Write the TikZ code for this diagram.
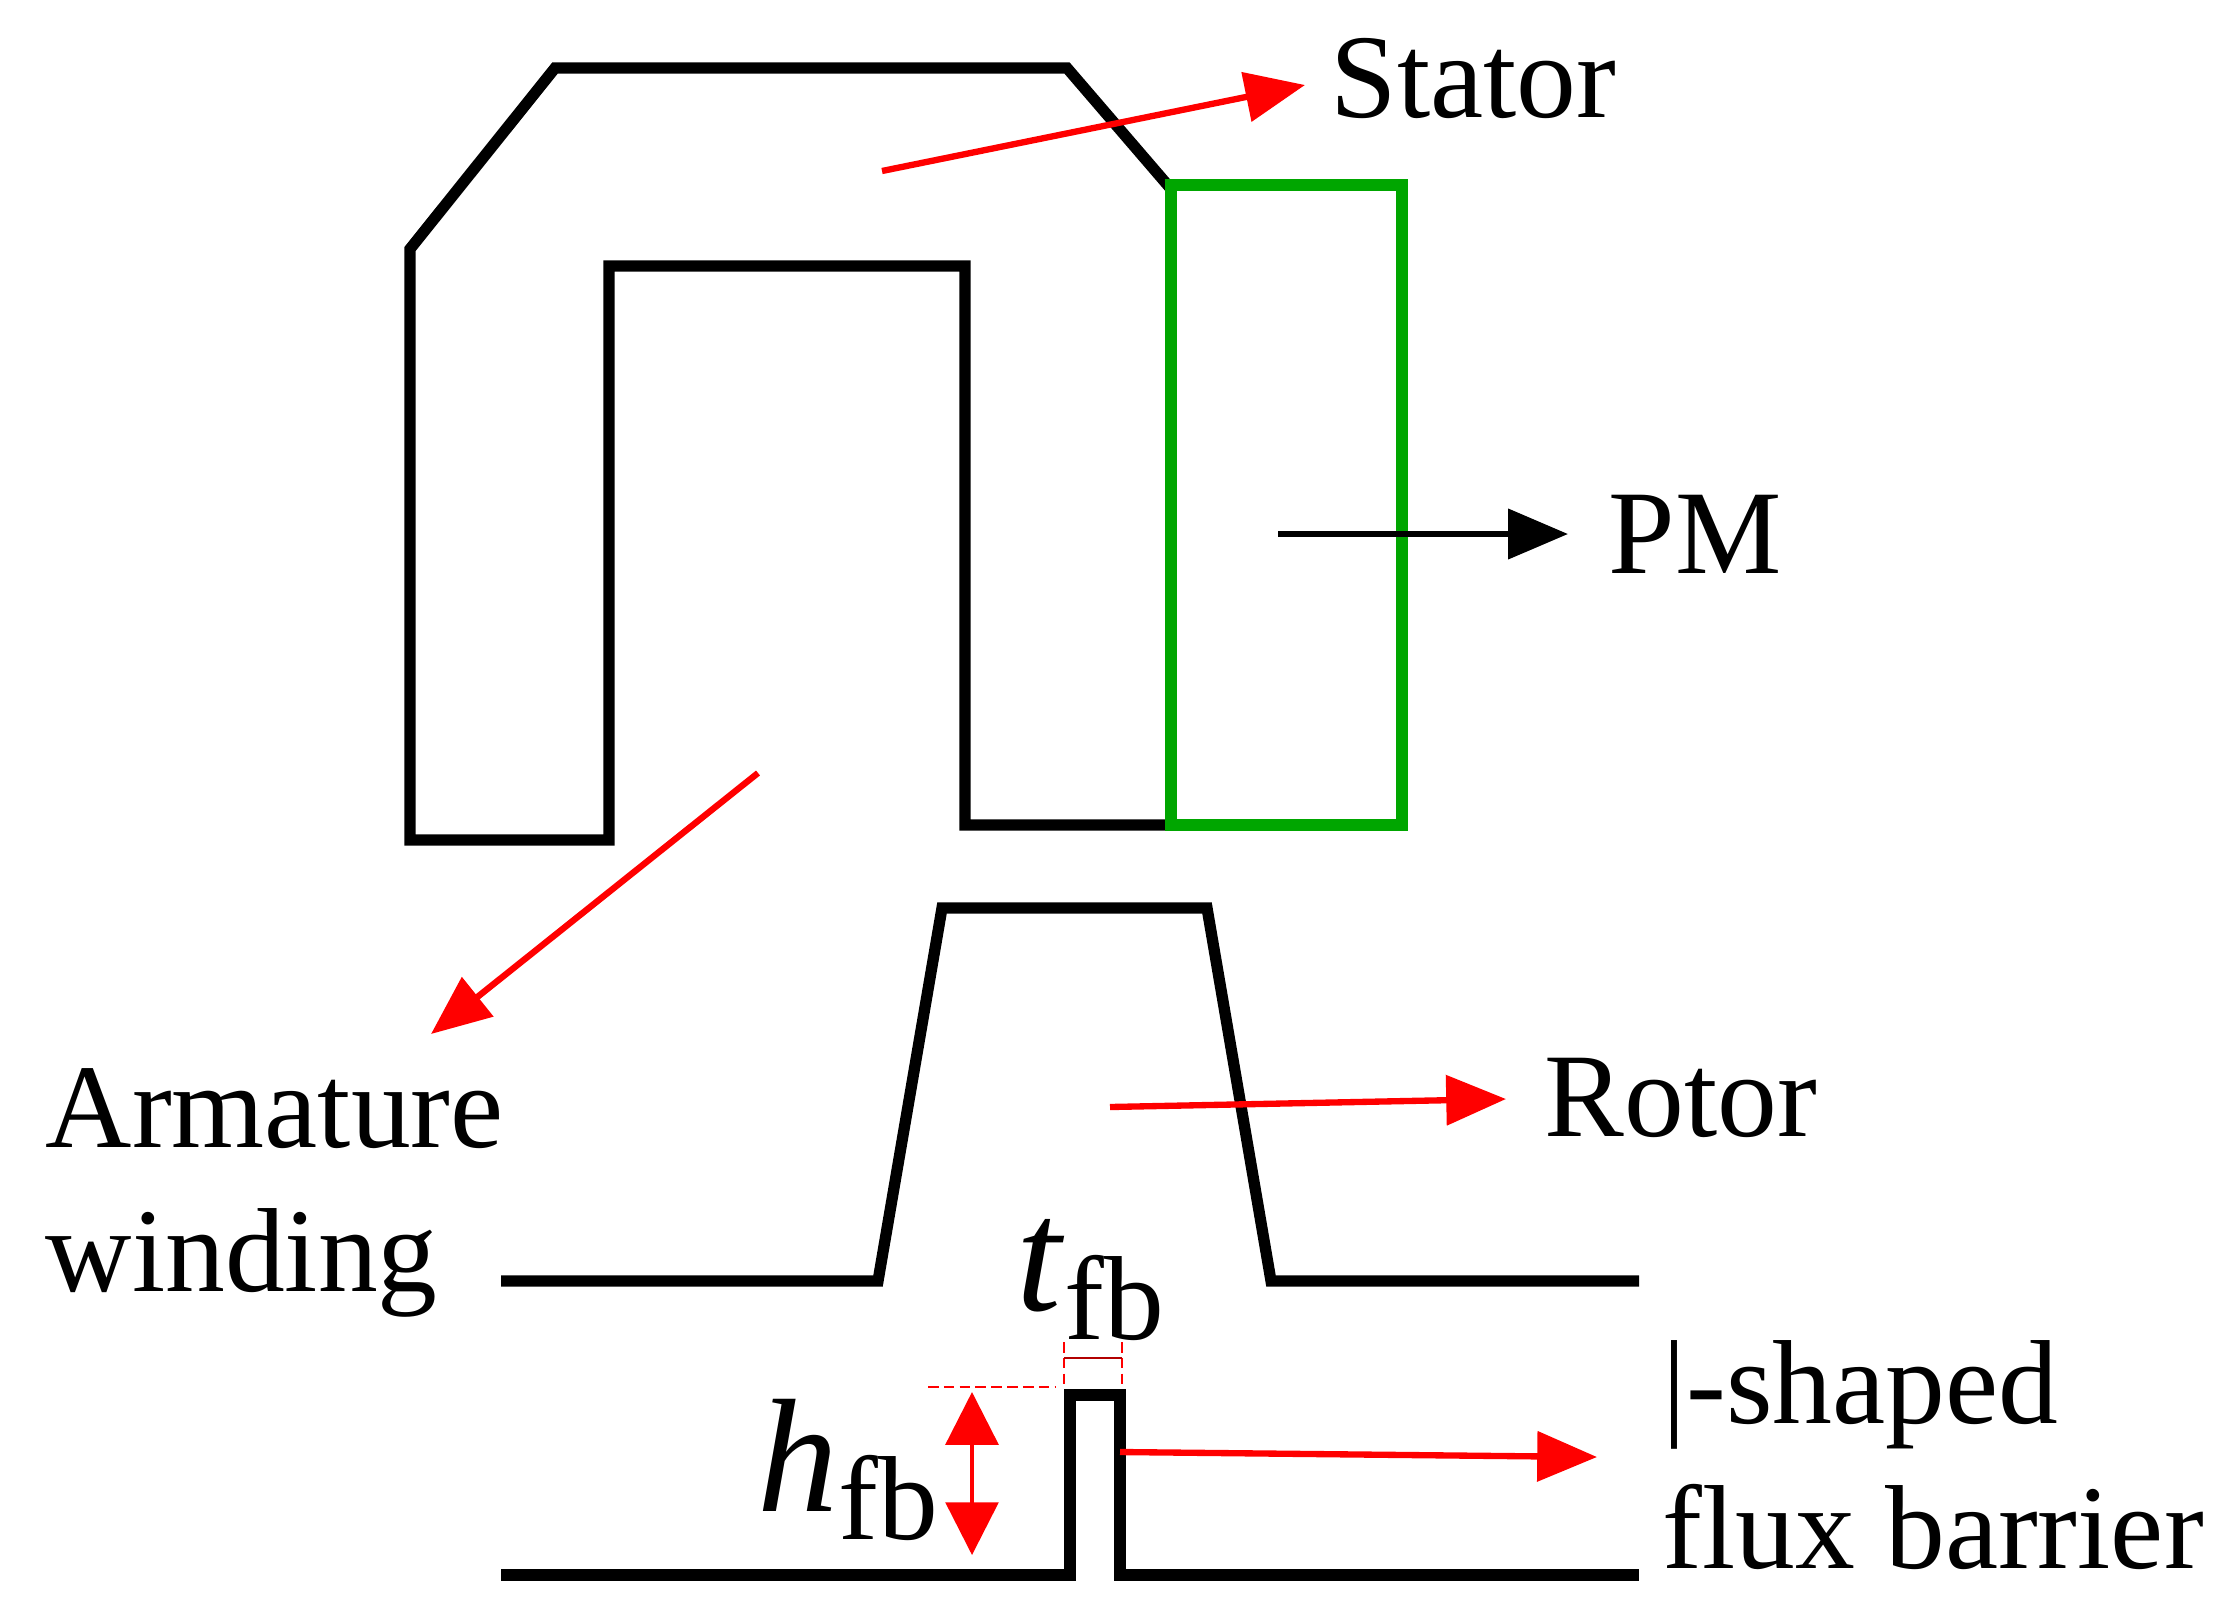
\documentclass[tikz,border=0pt]{standalone}
\usepackage{fontspec}
\setmainfont{Liberation Serif}
\usetikzlibrary{arrows.meta}
\begin{document}
\begin{tikzpicture}[x=0.01cm,y=-0.01cm,
  blk/.style={line width=3.2pt,black,line join=miter},
  rar/.style={red,line width=1.8pt,-{Triangle[length=17pt,width=14pt]}},
  lbl/.style={font=\fontsize{34}{41}\selectfont,inner sep=0pt}]
\useasboundingbox (0,0) rectangle (2231,1615);
% stator
\draw[blk] (1171,189) -- (1067,68) -- (555,68) -- (410,249) -- (410,840) -- (609,840) -- (609,266) -- (965,266) -- (965,825) -- (1171,825);
\draw[line width=3.2pt,green!65!black] (1171,185) rectangle (1402,825);
% rotor
\draw[blk] (501,1281) -- (878,1281) -- (942,908) -- (1207,908) -- (1271,1281) -- (1639,1281);
\draw[blk] (501,1575) -- (1070,1575) -- (1070,1395) -- (1120,1395) -- (1120,1575) -- (1639,1575);
% labels
\node[lbl,anchor=west] (st) at (1330,78) {Stator};
\node[lbl,anchor=west] (pm) at (1608,534) {PM};
\node[lbl,anchor=west] (ro) at (1544,1098) {Rotor};
\node[lbl,anchor=north west,align=left] (aw) at (45,1068) {Armature\\winding};
\node[lbl,anchor=west,align=left] (fb) at (1662,1455) {|-shaped\\flux barrier};
\coordinate (s0) at (882,171); \coordinate (s1) at (1305,85);
\coordinate (p0) at (1278,534); \coordinate (p1) at (1568,534);
\coordinate (a0) at (758,773); \coordinate (a1) at (431,1034);
\coordinate (r0) at (1110,1107); \coordinate (r1) at (1506,1099);
\coordinate (f0) at (1120,1452); \coordinate (f1) at (1597,1457);
\draw[rar] (s0) -- (s1);
\draw[line width=1.8pt,-{Triangle[length=17pt,width=14pt]}] (p0) -- (p1);
\draw[rar] (a0) -- (a1);
\draw[rar] (r0) -- (r1);
\draw[rar] (f0) -- (f1);
% dimensions
\coordinate (h0) at (972,1392); \coordinate (h1) at (972,1555);
\draw[red,line width=1pt,{Triangle[length=15pt,width=15pt]}-{Triangle[length=15pt,width=15pt]}] (h0) -- (h1);
\draw[red,line width=0.8pt,dash pattern=on 3pt off 1.5pt] (928,1387) -- (1056,1387);
\draw[red,line width=0.8pt,dash pattern=on 3pt off 1.5pt] (1064,1342) -- (1064,1384) (1122,1342) -- (1122,1384);
\draw[red!70!black,line width=0.8pt] (1064,1358) -- (1122,1358);
\node[lbl] (tfb) at (1090,1280) {\fontsize{46}{46}\selectfont\textit{t}\raisebox{-8pt}{\fontsize{34}{40}\selectfont fb}};
\node[lbl] (hfb) at (848,1470) {\fontsize{46}{46}\selectfont\textit{h}\raisebox{-8pt}{\fontsize{34}{40}\selectfont fb}};
\end{tikzpicture}
\end{document}
